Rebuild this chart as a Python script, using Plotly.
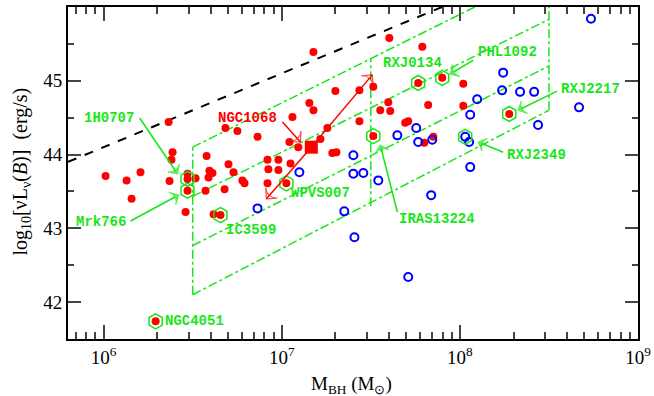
import plotly.graph_objects as go

# ---- data (log10 M_BH [Msun], log10 nuL_nu(B) [erg/s]) ----
red_logM = [6.365, 6.387, 6.381, 6.011, 6.129, 6.207, 6.370, 6.471, 6.516, 6.578,
            6.594, 6.611, 6.589, 6.572, 6.157, 6.460, 6.684, 6.751, 6.864, 6.701,
            6.729, 6.679, 6.779, 6.791, 6.617, 6.920, 6.925, 6.981, 6.981, 7.049,
            6.920, 7.043, 7.093, 7.217, 7.256, 7.178, 7.604, 7.301, 7.155, 7.178,
            7.060, 7.436, 7.514, 7.436, 7.553, 7.598, 7.609, 7.284, 7.307, 7.693,
            7.710, 7.822, 7.789, 8.019, 8.019, 7.851, 7.800]
red_logL = [44.44, 44.03, 43.93, 43.71, 43.65, 43.76, 43.64, 43.74, 43.68, 43.98,
            43.78, 43.75, 43.69, 43.51, 43.40, 43.22, 44.36, 44.32, 44.24, 43.87,
            43.76, 43.53, 43.65, 43.61, 43.19, 43.93, 43.80, 43.93, 43.79, 43.88,
            43.61, 44.17, 44.10, 44.21, 44.36, 45.39, 45.58, 44.86, 44.70, 44.60,
            44.51, 44.87, 44.92, 44.45, 44.60, 44.71, 44.59, 44.02, 44.03, 44.43,
            44.45, 44.67, 45.46, 44.96, 44.66, 44.24, 44.16]

blue_logM = [8.736, 8.243, 8.237, 8.338, 8.417, 8.097, 8.058, 8.669, 8.439, 8.052,
             8.058, 7.839, 7.845, 7.649, 7.755, 7.766, 7.402, 7.402, 7.458, 7.542,
             7.099, 6.864, 7.351, 7.408, 7.710, 8.030]
blue_logL = [45.84, 45.11, 44.87, 44.85, 44.85, 44.75, 44.54, 44.64, 44.40, 44.17,
             43.83, 43.45, 44.20, 44.26, 44.36, 44.17, 43.99, 43.74, 43.75, 43.65,
             43.76, 43.27, 43.23, 42.88, 42.34, 44.24]

hex_names = ["1H0707", "Mrk766", "NGC4051", "IC3599", "WPVS007", "IRAS13224",
             "RXJ0134", "PHL1092", "RXJ2217", "RXJ2349"]
hex_logM = [6.471, 6.471, 6.292, 6.656, 7.026, 7.514, 7.766, 7.901, 8.277, 8.030]
hex_logL = [43.67, 43.51, 41.74, 43.18, 43.61, 44.25, 44.97, 45.04, 44.55, 44.24]
# inner filled red dot for the hexagon-marked objects (RXJ2349 has an open blue circle)
hex_inner = ["red", "red", "red", "red", "red", "red", "red", "red", "red", "rgba(0,0,0,0)"]

ngc1068_logM = [7.166]
ngc1068_logL = [44.10]
ngc1068_arrow_logM = [7.508, 6.914]
ngc1068_arrow_logL = [45.08, 43.40]

edd_logM = [5.8, 8.0]
edd_logL = [43.9, 46.1]

guide_vert_logM = [6.5, 7.5, 8.5]
guide_vert_lo = [42.1, 43.3, 44.6]
guide_vert_hi = [44.1, 45.3, 46.5]
guide_slant_logM = [6.5, 8.5]
guide_slant_start = [44.1, 43.433, 42.767, 42.1]
guide_slant_end = [46.5, 45.833, 45.2, 44.6]

# labels: text, label logM, label logL, arrow head (logM, logL), arrow tail (logM, logL)
label_text = ["1H0707", "Mrk766", "NGC4051", "IC3599", "WPVS007", "IRAS13224",
              "RXJ0134", "PHL1092", "RXJ2217", "RXJ2349"]
label_logM = [6.028, 5.983, 6.51, 6.830, 7.217, 7.873, 7.733, 8.265, 8.731, 8.428]
label_logL = [44.495, 43.085, 41.74, 42.976, 43.478, 43.125, 45.24, 45.39, 44.89, 43.99]
arrow_head_logM = [6.415, 6.421, None, None, None, 7.553, None, 7.946, 8.327, 8.103]
arrow_head_logL = [43.74, 43.45, None, None, None, 44.13, None, 45.09, 44.60, 44.17]
arrow_tail_logM = [6.202, 6.151, None, None, None, 7.649, None, 8.075, 8.546, 8.243]
arrow_tail_logL = [44.495, 43.10, None, None, None, 43.22, None, 45.28, 44.86, 44.03]

ngc_label = ("NGC1068", 6.807, 44.495)
ngc_label_arrow_logM = [7.004, 7.105]
ngc_label_arrow_logL = [44.44, 44.17]

x_tickvals = [1e6, 1e7, 1e8, 1e9]
x_ticktext = ["10<sup>6</sup>", "10<sup>7</sup>", "10<sup>8</sup>", "10<sup>9</sup>"]
x_minor = [m * 10 ** e for e in (5, 6, 7, 8) for m in range(2, 10) if 6.3e5 < m * 10 ** e < 1e9]
y_tickvals = [42, 43, 44, 45, 46]
y_minor = [41.5, 42.5, 43.5, 44.5, 45.5]

GREEN = "#19e619"
RED = "#ff0000"
BLUE = "#0000ff"

fig = go.Figure()


def arrow(xs_log, ys, color, width, size, symbol):
    fig.add_trace(go.Scatter(
        x=[10 ** v for v in xs_log], y=ys, mode="lines+markers",
        line=dict(color=color, width=width),
        marker=dict(symbol=["circle", symbol], size=[0, size], color=color,
                    angleref="previous", line=dict(width=1.2, color=color)),
        hoverinfo="skip", showlegend=False, cliponaxis=False))


# green guide parallelograms
for lm, lo, hi in zip(guide_vert_logM, guide_vert_lo, guide_vert_hi):
    fig.add_trace(go.Scatter(x=[10 ** lm, 10 ** lm], y=[lo, hi], mode="lines",
                             line=dict(color=GREEN, width=1.5, dash="dashdot"),
                             hoverinfo="skip", showlegend=False))
for s, e in zip(guide_slant_start, guide_slant_end):
    fig.add_trace(go.Scatter(x=[10 ** v for v in guide_slant_logM], y=[s, e], mode="lines",
                             line=dict(color=GREEN, width=1.5, dash="dashdot"),
                             hoverinfo="skip", showlegend=False))

# Eddington line
fig.add_trace(go.Scatter(x=[10 ** v for v in edd_logM], y=edd_logL, mode="lines",
                         line=dict(color="black", width=2, dash="dash"),
                         showlegend=False))

# points
fig.add_trace(go.Scatter(x=[10 ** v for v in red_logM], y=red_logL, mode="markers",
                         marker=dict(color=RED, size=8, line=dict(width=0)),
                         showlegend=False))
fig.add_trace(go.Scatter(x=[10 ** v for v in blue_logM], y=blue_logL, mode="markers",
                         marker=dict(symbol="circle-open", color=BLUE, size=8,
                                     line=dict(width=2, color=BLUE)),
                         showlegend=False))
fig.add_trace(go.Scatter(x=[10 ** v for v in hex_logM], y=hex_logL, mode="markers",
                         marker=dict(symbol="hexagon-open", color=GREEN, size=15,
                                     line=dict(width=1.5, color=GREEN)),
                         showlegend=False, cliponaxis=False))
fig.add_trace(go.Scatter(x=[10 ** v for v in hex_logM], y=hex_logL, mode="markers",
                         marker=dict(color=hex_inner, size=8, line=dict(width=0)),
                         showlegend=False))
fig.add_trace(go.Scatter(x=[10 ** v for v in ngc1068_logM], y=ngc1068_logL, mode="markers",
                         marker=dict(symbol="square", color=RED, size=13),
                         showlegend=False))

# NGC1068 shift arrows
for am, al in zip(ngc1068_arrow_logM, ngc1068_arrow_logL):
    arrow([ngc1068_logM[0], am], [ngc1068_logL[0], al], RED, 1.5, 11, "arrow-wide-open")
arrow(ngc_label_arrow_logM, ngc_label_arrow_logL, RED, 1.5, 11, "arrow-wide-open")

# green label arrows
for hx, hy, tx, ty in zip(arrow_head_logM, arrow_head_logL, arrow_tail_logM, arrow_tail_logL):
    if hx is not None:
        arrow([tx, hx], [ty, hy], GREEN, 1.6, 10, "arrow-wide")

ann = []
lab_font = dict(family="Liberation Mono", size=14, color=GREEN)
for t, lx, ly in zip(label_text, label_logM, label_logL):
    ann.append(dict(x=lx, y=ly, xref="x", yref="y", text="<b>%s</b>" % t,
                    showarrow=False, font=lab_font))
ann.append(dict(x=ngc_label[1], y=ngc_label[2], xref="x", yref="y",
                text="<b>%s</b>" % ngc_label[0], showarrow=False,
                font=dict(family="Liberation Mono", size=14, color=RED)))
# axis titles
ann.append(dict(x=0.4965, y=-0.138, xref="paper", yref="paper", showarrow=False,
                text="M<sub>BH</sub> (M<sub>⊙</sub>)", font=dict(size=19),
                xanchor="center", yanchor="middle"))
ann.append(dict(x=-0.082, y=0.505, xref="paper", yref="paper", showarrow=False,
                text="log<sub>10</sub>[νL<sub>ν</sub>(<i>B</i>)]  (erg/s)", font=dict(size=20),
                textangle=-90, xanchor="center", yanchor="middle"))

fig.update_layout(
    width=654, height=396,
    margin=dict(l=68, r=16, t=7, b=57),
    paper_bgcolor="white", plot_bgcolor="white",
    annotations=ann,
    font=dict(family="Liberation Serif", size=18, color="black"),
)
fig.update_xaxes(type="log", range=[5.8, 9.0], tickmode="array", tickvals=x_tickvals,
                 ticktext=x_ticktext, ticks="inside", ticklen=14, tickwidth=2,
                 minor=dict(tickmode="array", tickvals=x_minor, ticks="inside",
                            ticklen=7, tickwidth=2, showgrid=False),
                 showline=True, linewidth=2, linecolor="black", mirror="ticks",
                 showgrid=False, zeroline=False, automargin=False,
                 tickfont=dict(size=19))
fig.update_yaxes(range=[41.5, 46.0], tickmode="array", tickvals=y_tickvals,
                 ticks="inside", ticklen=13, tickwidth=2,
                 minor=dict(tickmode="array", tickvals=y_minor, ticks="inside",
                            ticklen=6, tickwidth=2, showgrid=False),
                 showline=True, linewidth=2, linecolor="black", mirror="ticks",
                 showgrid=False, zeroline=False, automargin=False,
                 tickfont=dict(size=19))

fig.write_html("out.html", config={"displayModeBar": False},
               post_script="document.body.style.margin='0';document.body.style.overflow='hidden';")
